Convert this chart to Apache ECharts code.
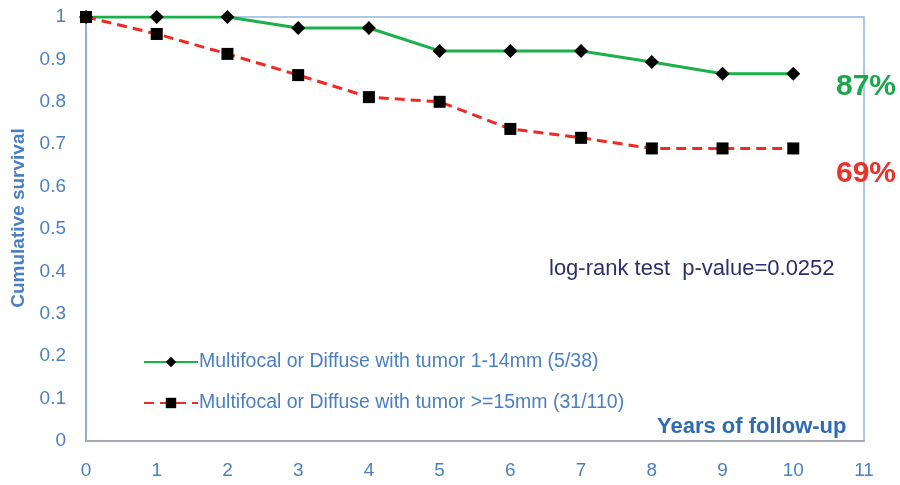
<!DOCTYPE html>
<html><head><meta charset="utf-8">
<script src="https://cdn.jsdelivr.net/npm/echarts@6/dist/echarts.min.js"></script>
<style>html,body{margin:0;padding:0;background:#fff}#c{width:900px;height:485px}</style>
</head><body><div id="c"></div>
<script>
const years = [0,1,2,3,4,5,6,7,8,9,10];
const smallTumor = [1,1,1,0.974,0.974,0.92,0.92,0.92,0.894,0.866,0.866];
const largeTumor = [1,0.96,0.913,0.863,0.811,0.80,0.736,0.715,0.69,0.69,0.69];
const seriesNames = ['Multifocal or Diffuse with tumor 1-14mm (5/38)','Multifocal or Diffuse with tumor >=15mm (31/110)'];
const FONT = '"Liberation Sans",Arial,sans-serif';
const BLUE = '#4a7fc1';
const chart = echarts.init(document.getElementById('c'));
chart.setOption({
  animation:false,
  grid:{left:86,right:36,top:17,bottom:44,show:true,borderColor:'#8fb6e0',borderWidth:1.5},
  xAxis:{type:'value',min:0,max:11,interval:1,
    axisLine:{show:true,lineStyle:{color:'#a6aab0',width:2}},axisTick:{show:false},splitLine:{show:false},
    axisLabel:{color:BLUE,fontSize:19,fontFamily:FONT,margin:20}},
  yAxis:{type:'value',min:0,max:1,interval:0.1,
    axisLine:{show:true,lineStyle:{color:'#8fb0d8',width:2}},axisTick:{show:false},splitLine:{show:false},
    axisLabel:{color:BLUE,fontSize:19,fontFamily:FONT,margin:20,formatter:v=>String(+v.toFixed(1))}},
  legend:{orient:'vertical',left:138,top:347,itemGap:21,itemWidth:54,itemHeight:13,
    textStyle:{color:BLUE,fontSize:19.5,fontFamily:FONT,padding:[0,0,0,-4]},
    data:seriesNames},
  series:[
    {name:seriesNames[0],type:'line',data:years.map((x,i)=>[x,smallTumor[i]]),
     symbol:'diamond',symbolSize:14,itemStyle:{color:'#000'},
     lineStyle:{color:'#1ab04a',width:3}},
    {name:seriesNames[1],type:'line',data:years.map((x,i)=>[x,largeTumor[i]]),
     symbol:'rect',symbolSize:12,itemStyle:{color:'#000'},
     lineStyle:{color:'#ee2a24',width:3,type:[10,6]}}
  ],
  graphic:[
    {type:'text',x:19,y:218,rotation:Math.PI/2,style:{text:'Cumulative survival',fill:BLUE,font:'bold 19px '+FONT,textAlign:'center',textVerticalAlign:'middle'}},
    {type:'text',left:657,top:416,style:{text:'Years of follow-up',fill:'#2f6bb3',font:'bold 22px '+FONT}},
    {type:'text',left:549,top:258,style:{text:'log-rank test  p-value=0.0252',fill:'#2b2f6b',font:'22px '+FONT}},
    {type:'text',left:836,top:72,style:{text:'87%',fill:'#1aa84a',font:'bold 30px '+FONT}},
    {type:'text',left:836,top:159,style:{text:'69%',fill:'#e8322a',font:'bold 30px '+FONT}}
  ]
});
</script></body></html>
